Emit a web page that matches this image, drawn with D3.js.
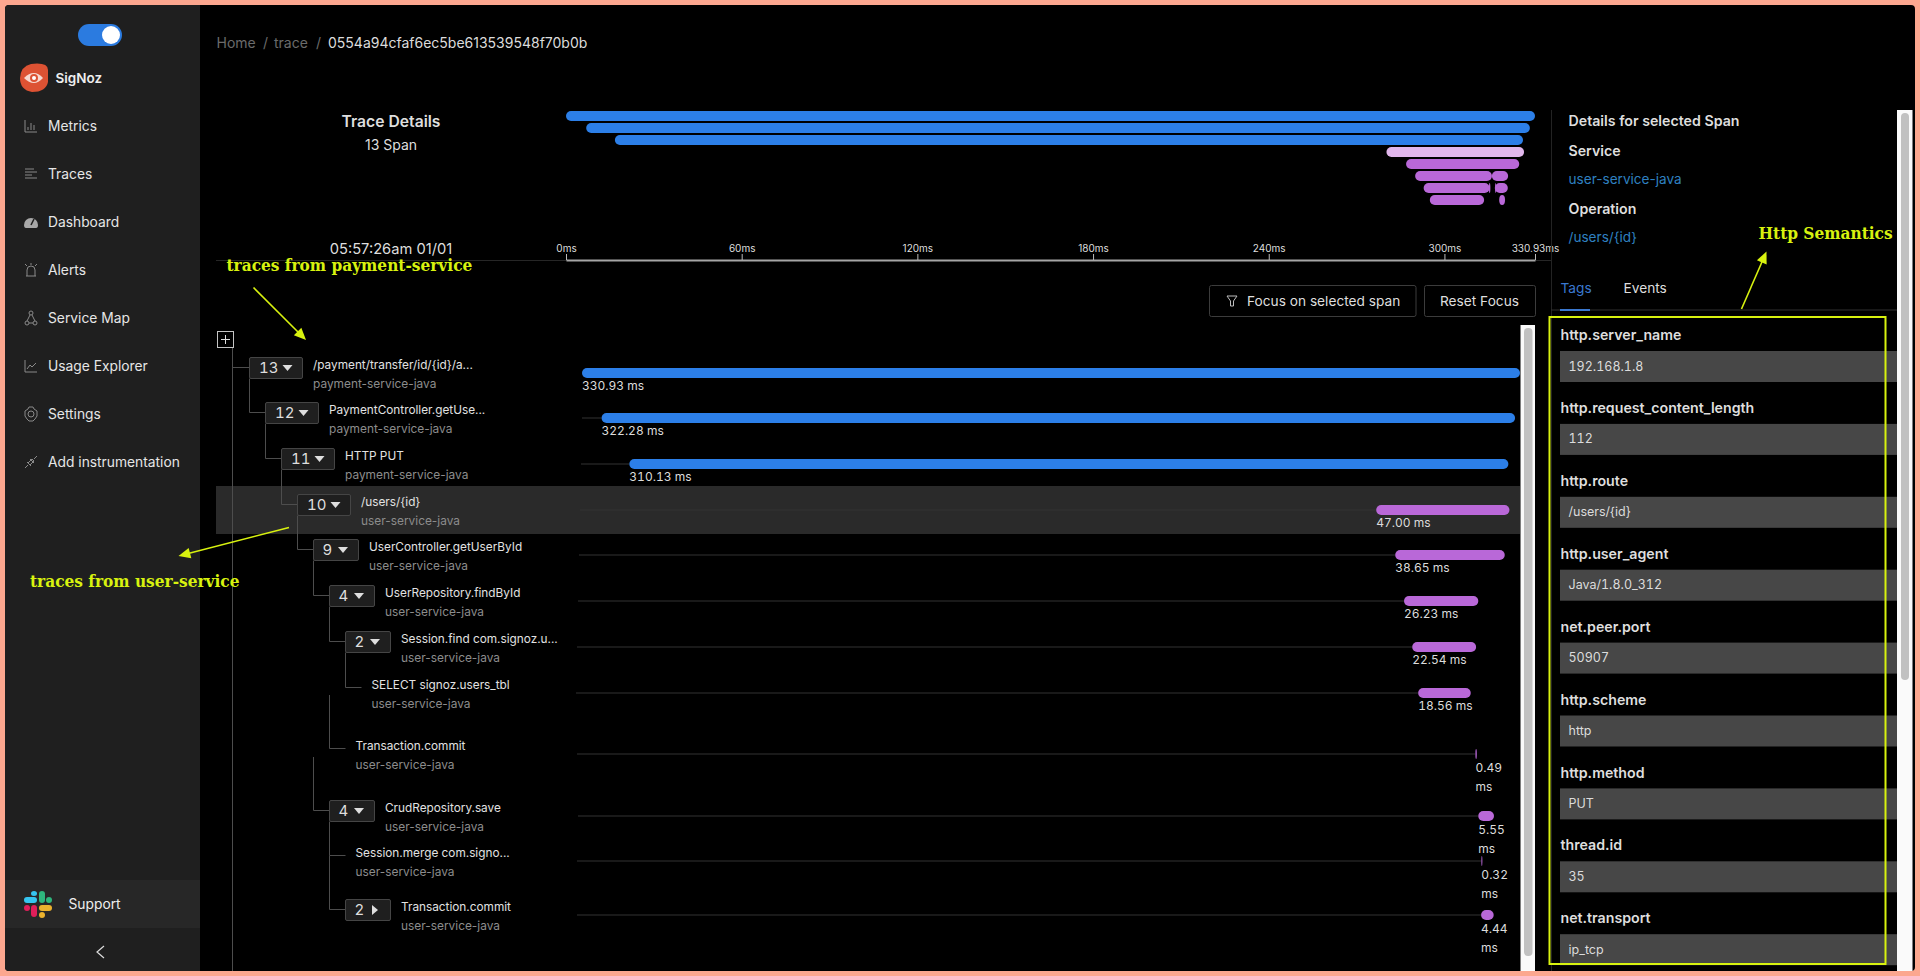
<!DOCTYPE html>
<html>
<head>
<meta charset="utf-8">
<title>SigNoz trace details</title>
<script src="https://cdn.jsdelivr.net/npm/d3@7"></script>
<style>
  html, body { margin: 0; padding: 0; background: #fca78f; overflow: hidden; }
  svg { display: block; }
  text { font-family: Inter, "Noto Sans", sans-serif; dominant-baseline: central; }
  .num { font-feature-settings: "tnum"; }
  .note { font-family: "DejaVu Serif Condensed", "DejaVu Serif", serif; font-stretch: condensed; font-weight: 700; fill: #d8f20f; font-size: 17.1px; }
</style>
</head>
<body>
<script>
// spans, top to bottom as the tree lists them
const spanNames = ['/payment/transfer/id/{id}/a...', 'PaymentController.getUse...', 'HTTP PUT', '/users/{id}',
  'UserController.getUserById', 'UserRepository.findById', 'Session.find com.signoz.u...', 'SELECT signoz.users_tbl',
  'Transaction.commit', 'CrudRepository.save', 'Session.merge com.signo...', 'Transaction.commit']
const spanServices = ['payment-service-java', 'payment-service-java', 'payment-service-java', 'user-service-java',
  'user-service-java', 'user-service-java', 'user-service-java', 'user-service-java',
  'user-service-java', 'user-service-java', 'user-service-java', 'user-service-java']
const spanCounts = [13, 12, 11, 10, 9, 4, 2, null, null, 4, null, 2]
const spanDepths = [0, 1, 2, 3, 4, 5, 6, 7, 6, 5, 6, 6]
const spanStarts = [0, 6.9, 16.7, 280.2, 286.9, 290, 292.9, 295, 315.2, 316.2, 317.3, 317.2]
const spanDurations = [330.93, 322.28, 310.13, 47.00, 38.65, 26.23, 22.54, 18.56, 0.49, 5.55, 0.32, 4.44]
// child of the collapsed commit, only seen in the overview
const hiddenDepth = 7
const hiddenStart = 318.7
const hiddenDuration = 2
const selectedSpan = 3

const axisTicks = [0, 60, 120, 180, 240, 300, 330.93]
const menuItems = ['Metrics', 'Traces', 'Dashboard', 'Alerts', 'Service Map', 'Usage Explorer', 'Settings', 'Add instrumentation']
const tagNames = ['http.server_name', 'http.request_content_length', 'http.route', 'http.user_agent', 'net.peer.port',
  'http.scheme', 'http.method', 'thread.id', 'net.transport']
const tagValues = ['192.168.1.8', '112', '/users/{id}', 'Java/1.8.0_312', '50907', 'http', 'PUT', '35', 'ip_tcp']

// layout
const rowCentres = [373, 418, 464, 510, 555, 601, 647, 693, 754, 816, 861, 915]
const blue = '#2c7fe8', purple = '#b968d8', lime = '#d8f20f'
const lineCol = '#4d4d4d'

const svg = d3.select('body').append('svg').attr('width', 1920).attr('height', 976)

// peach frame and black page
svg.append('rect').attr('x', 5).attr('y', 5).attr('width', 1910).attr('height', 966).attr('rx', 4).attr('fill', '#000')

/* ---------- sidebar ---------- */
const side = svg.append('g')
side.append('path').attr('d', 'M9 5H200V971H9Q5 971 5 967V9Q5 5 9 5Z').attr('fill', '#1f1f1f')
side.append('rect').attr('x', 78).attr('y', 24).attr('width', 44).attr('height', 22).attr('rx', 11).attr('fill', '#2b7be0')
side.append('circle').attr('cx', 111).attr('cy', 35).attr('r', 9).attr('fill', '#fff')

// logo
side.append('path').attr('d', 'M31 64Q48 62 48 70V82Q46 92 32 92Q20 90 20 78Q21 66 31 64Z').attr('fill', '#dd5233')
side.append('path').attr('d', 'M24 78Q34 68 43 78Q34 88 24 78Z').attr('fill', '#f7d9d0')
side.append('circle').attr('cx', 34).attr('cy', 78).attr('r', 4).attr('fill', '#dd5233')
side.append('circle').attr('cx', 34).attr('cy', 78).attr('r', 2).attr('fill', '#fff')
side.append('text').attr('x', 55.5).attr('y', 78).attr('fill', '#eee').attr('font-size', 13.5).attr('font-weight', 600).text('SigNoz')

const menuY = d3.scalePoint().domain(menuItems).range([126, 462])
side.selectAll('.menu').data(menuItems).enter().append('text')
  .attr('class', 'menu').attr('x', 48).attr('y', d => menuY(d))
  .attr('fill', '#e6e6e6').attr('font-size', 13.8).text(d => d)

// small stroked menu icons, drawn around the 0,0 centre of each item
const menuIcons = [
  'M-6-6V6H6M-3 4V1M0 4V-3M3 4V-1',
  'M-6-5H3M-6-2H6M-6 1H1M-6 4H6',
  null,
  'M-5 6H5M-4 6V0A4 4 0 0 1 4 0V6M-6-6L-4-4M6-6L4-4M0-7V-5',
  'M0-3A2 2 0 1 1 0-7A2 2 0 1 1 0-3M-1-3L-4 3M1-3L4 3M-2 5H2M-4 7A2 2 0 1 1-4 3A2 2 0 1 1-4 7M4 7A2 2 0 1 1 4 3A2 2 0 1 1 4 7',
  'M-6-6V6H6M-4 3L-1-1L1 1L5-3',
  'M0-3A3 3 0 1 1 0 3A3 3 0 1 1 0-3M-2-7H2L3-5L6-3V2L4 5L2 7H-2L-4 5L-6 2V-3L-3-5Z',
  'M-6 6L-3 3M6-6L3-3M-4 0L0 4M-1-3L3 1M-3 1L1-3L3-1L-1 3Z'
]
menuIcons.forEach((d, i) => {
  const g = side.append('g').attr('transform', `translate(31,${menuY(menuItems[i])})`)
  if (d) g.append('path').attr('d', d).attr('fill', 'none').attr('stroke', '#8a8a8a').attr('stroke-width', 1)
  else {
    g.append('path').attr('d', 'M-7 3A7 7 0 1 1 7 3Q7 6 5 6H-5Q-7 6-7 3Z').attr('fill', '#a8a8a8')
    g.append('path').attr('d', 'M0 3L3-3').attr('stroke', '#1f1f1f').attr('stroke-width', 1.5)
  }
})

// support row with the slack mark
side.append('rect').attr('x', 5).attr('y', 880).attr('width', 195).attr('height', 48).attr('fill', '#272727')
const slackBars = [
  [24, 897, 13, 6, '#36c5f0'], [31, 891, 6, 5, '#36c5f0'],
  [39, 891, 6, 12, '#2eb67d'], [46, 897, 6, 6, '#2eb67d'],
  [31, 905, 6, 12, '#e01e5a'], [24, 905, 6, 6, '#e01e5a'],
  [39, 905, 13, 6, '#ecb22e'], [39, 912, 6, 6, '#ecb22e']
]
side.selectAll('.slack').data(slackBars).enter().append('rect')
  .attr('x', d => d[0]).attr('y', d => d[1]).attr('width', d => d[2]).attr('height', d => d[3])
  .attr('rx', 3).attr('fill', d => d[4])
side.append('text').attr('x', 68.5).attr('y', 904).attr('fill', '#eee').attr('font-size', 13.8).text('Support')
side.append('path').attr('d', 'M104 946L97 952L104 958').attr('fill', 'none').attr('stroke', '#ddd').attr('stroke-width', 1.2)

/* ---------- header ---------- */
const crumbs = [[216.5, 'Home', '#6b6b6b'], [263, '/', '#6b6b6b'], [274, 'trace', '#6b6b6b'], [316, '/', '#6b6b6b'], [328, '0554a94cfaf6ec5be613539548f70b0b', '#dcdcdc']]
svg.selectAll('.crumb').data(crumbs).enter().append('text')
  .attr('class', 'crumb').attr('x', d => d[0]).attr('y', 43).attr('fill', d => d[2]).attr('font-size', 14).text(d => d[1])

svg.append('text').attr('x', 391).attr('y', 122).attr('text-anchor', 'middle').attr('fill', '#dedede')
  .attr('font-size', 15.7).attr('font-weight', 600).text('Trace Details')
svg.append('text').attr('x', 391).attr('y', 145).attr('text-anchor', 'middle').attr('fill', '#dedede')
  .attr('font-size', 14).text('13 Span')
svg.append('text').attr('x', 391).attr('y', 249).attr('text-anchor', 'middle').attr('fill', '#dedede')
  .attr('font-size', 14.7).text('05:57:26am 01/01')

/* ---------- overview bars ---------- */
const xMini = d3.scaleLinear().domain([0, 330.93]).range([566, 1535])
const yMini = d3.scaleBand().domain(d3.range(8)).range([110, 206]).paddingInner(2 / 12).paddingOuter(1 / 12)

svg.append('line').attr('x1', 216).attr('x2', 1551).attr('y1', 260.5).attr('y2', 260.5).attr('stroke', '#262626')

const miniSpans = spanStarts.map((s, i) => ({ start: s, dur: spanDurations[i], depth: spanDepths[i], i }))
miniSpans.push({ start: hiddenStart, dur: hiddenDuration, depth: hiddenDepth, i: -1 })

svg.append('g').selectAll('rect').data(miniSpans).enter().append('rect')
  .attr('x', d => xMini(d.start))
  .attr('y', d => yMini(d.depth))
  .attr('width', d => Math.max(1, xMini(d.start + d.dur) - xMini(d.start)))
  .attr('height', yMini.bandwidth())
  .attr('rx', 5)
  .attr('fill', d => d.i === selectedSpan ? '#e2b7ec' : d.i >= 0 && d.i < 3 ? blue : purple)

const axis = d3.axisTop(xMini).tickValues(axisTicks).tickSizeInner(6).tickSizeOuter(0).tickFormat(d => d + 'ms')
const axisG = svg.append('g').attr('transform', 'translate(0,260)').call(axis)
axisG.select('.domain').attr('stroke', '#a6a6a6').attr('stroke-width', 2)
axisG.selectAll('.tick line').attr('stroke', '#bbb')
axisG.selectAll('.tick text').attr('fill', '#dedede').attr('font-size', 10)
  .style('font-family', 'Inter, sans-serif').attr('y', -12)

/* ---------- buttons ---------- */
const buttons = [[1209, 206.5, 1247, 'Focus on selected span'], [1424, 111, 1479.5, 'Reset Focus']]
buttons.forEach((b, i) => {
  svg.append('rect').attr('x', b[0] + .5).attr('y', 285.5).attr('width', b[1]).attr('height', 31).attr('rx', 2)
    .attr('fill', '#000').attr('stroke', '#3c3c3c')
  svg.append('text').attr('x', b[2]).attr('y', 301).attr('fill', '#dedede').attr('font-size', 13.7)
    .attr('text-anchor', i ? 'middle' : 'start').text(b[3])
})
svg.append('path').attr('d', 'M1227 296H1237L1233.5 301V306H1230.5V301Z').attr('fill', 'none').attr('stroke', '#bdbdbd')

/* ---------- span tree ---------- */
const xMain = d3.scaleLinear().domain([0, 330.93]).range([582, 1520])
const tree = svg.append('g')

tree.append('rect').attr('x', 216).attr('y', 486).attr('width', 1304).attr('height', 48).attr('fill', '#2a2a2a')

// connectors, a box hangs 16px further right for each level of depth
const boxX = d => 249.5 + 16 * d
const connectorLine = (x1, y1, x2, y2) => tree.append('line').attr('x1', x1).attr('y1', y1).attr('x2', x2).attr('y2', y2)
  .attr('stroke', lineCol)

connectorLine(232.5, 347, 232.5, 971)
tree.append('rect').attr('x', 217.5).attr('y', 331.5).attr('width', 16).attr('height', 16)
  .attr('fill', '#000').attr('stroke', '#c4c4c4')
tree.append('path').attr('d', 'M221 339.5H230M225.5 335V344').attr('stroke', '#ddd').attr('fill', 'none')

// the table only paints part of the long guides, so these start below their parent's box
const guideTop = { 8: 695, 9: 757 }
spanDepths.forEach((depth, i) => {
  const elbowY = rowCentres[i] - 5.5
  const parentX = depth === 0 ? 232.5 : boxX(depth - 1)
  const endX = boxX(depth)
  // nearest earlier row one level up gives the start of the vertical guide
  let parent = i - 1
  while (parent >= 0 && spanDepths[parent] !== depth - 1) parent--
  if (depth > 0) {
    let prev = i - 1
    while (spanDepths[prev] !== depth && prev > parent) prev--
    const from = guideTop[i] || (prev > parent ? rowCentres[prev] - 5.5 : rowCentres[parent] + 5.5)
    connectorLine(parentX, from, parentX, elbowY)
  }
  connectorLine(parentX, elbowY, endX, elbowY)
})

spanNames.forEach((name, i) => {
  const y = rowCentres[i]
  const depth = spanDepths[i]
  const count = spanCounts[i]
  const g = tree.append('g')
  const collapsed = i === spanNames.length - 1
  const wide = count >= 10
  let textX = boxX(depth) + 10
  if (count !== null) {
    const w = wide ? 53 : 45
    textX = boxX(depth) + w + 10.5
    g.append('rect').attr('x', boxX(depth)).attr('y', y - 15.5).attr('width', w).attr('height', 21).attr('rx', 1.5)
      .attr('fill', '#1f1f1f').attr('stroke', '#454545')
    g.append('text').attr('class', 'num').attr('x', boxX(depth) + (wide ? 9.5 : 9)).attr('y', y - 5)
      .attr('fill', '#dedede').attr('font-size', 15).text(count)
    const cx = boxX(depth) + (wide ? 38 : 29.5)
    const cy = y - 5
    g.append('path').attr('fill', '#dedede')
      .attr('d', collapsed ? `M${cx - 3} ${cy - 5}L${cx + 3} ${cy}L${cx - 3} ${cy + 5}Z` : `M${cx - 5} ${cy - 3}H${cx + 5}L${cx} ${cy + 3}Z`)
  }
  g.append('text').attr('x', textX).attr('y', y - 7.5).attr('fill', '#e2e2e2').attr('font-size', 11.8).text(name)
  g.append('text').attr('x', textX).attr('y', y + 11).attr('fill', '#8c8c8c').attr('font-size', 11.9).text(spanServices[i])

  // timeline of the row
  const barX = xMain(spanStarts[i])
  if (i > 0) {
    g.append('line').attr('x1', 582 - (depth - 1)).attr('x2', barX).attr('y1', y).attr('y2', y).attr('stroke', '#333')
  }
  g.append('rect').attr('x', barX).attr('y', y - 5)
    .attr('width', Math.max(1, xMain(spanStarts[i] + spanDurations[i]) - barX)).attr('height', 10).attr('rx', 5)
    .attr('fill', i < 3 ? blue : purple)
  const label = g.append('text').attr('class', 'num').attr('fill', '#dcdcdc').attr('font-size', 12)
  const durText = spanDurations[i].toFixed(2)
  if (spanDurations[i] < 10) {
    label.attr('x', barX).attr('y', y + 14).text(durText)
    g.append('text').attr('x', barX).attr('y', y + 33).attr('fill', '#dcdcdc').attr('font-size', 12).text('ms')
  } else {
    label.attr('x', barX).attr('y', y + 13).text(durText + ' ms')
  }
})

// scrollbars
const scrollbars = [[1520.5, 325, 14.5, 646, 1524, 328, 8.5, 628], [1897, 110, 15.5, 861, 1901, 113, 8, 567]]
scrollbars.forEach(s => {
  svg.append('rect').attr('x', s[0]).attr('y', s[1]).attr('width', s[2]).attr('height', s[3]).attr('fill', '#fafafa')
  svg.append('rect').attr('x', s[4]).attr('y', s[5]).attr('width', s[6]).attr('height', s[7]).attr('rx', 4).attr('fill', '#c1c1c1')
})

/* ---------- details panel ---------- */
svg.append('line').attr('x1', 1551.5).attr('x2', 1551.5).attr('y1', 110).attr('y2', 971).attr('stroke', '#232323')
const details = [
  ['Details for selected Span', 121, '#dedede', 600], ['Service', 151, '#dedede', 600], ['user-service-java', 179, '#2f80c0', 400],
  ['Operation', 209, '#dedede', 600], ['/users/{id}', 237, '#2f80c0', 400]
]
svg.selectAll('.detail').data(details).enter().append('text')
  .attr('class', 'detail').attr('x', 1568.5).attr('y', d => d[1]).attr('fill', d => d[2])
  .attr('font-size', d => d[3] === 600 ? 14.2 : 13.6).attr('font-weight', d => d[3]).text(d => d[0])

svg.append('text').attr('x', 1560.5).attr('y', 288).attr('fill', '#3a78d0').attr('font-size', 13.7).text('Tags')
svg.append('text').attr('x', 1623.5).attr('y', 288).attr('fill', '#dedede').attr('font-size', 13.7).text('Events')
svg.append('line').attr('x1', 1551).attr('x2', 1897).attr('y1', 310).attr('y2', 310).attr('stroke', '#303030')
svg.append('rect').attr('x', 1560).attr('y', 309).attr('width', 30).attr('height', 2).attr('fill', '#3a78d0')

const tagY = d3.scaleBand().domain(tagNames).range([351, 351 + 72.9 * 9])
const tags = svg.selectAll('.tag').data(tagNames).enter().append('g').attr('class', 'tag')
  .attr('transform', d => `translate(0,${tagY(d)})`)
tags.append('text').attr('x', 1560.5).attr('y', -16).attr('fill', '#dedede').attr('font-size', 14.2).attr('font-weight', 600).text(d => d)
tags.append('rect').attr('x', 1560).attr('y', 0).attr('width', 337).attr('height', 31).attr('fill', '#474747')
tags.append('text').attr('class', 'num').attr('x', 1568.5).attr('y', 15.5).attr('fill', '#dcdcdc').attr('font-size', 12.5).text((d, i) => tagValues[i])

/* ---------- lime annotations ---------- */
svg.append('rect').attr('x', 1549.5).attr('y', 317).attr('width', 336).attr('height', 647)
  .attr('fill', 'none').attr('stroke', lime).attr('stroke-width', 2)

const notes = [['traces from payment-service', 226.5, 265], ['traces from user-service', 30, 581], ['Http Semantics', 1758.5, 233]]
svg.selectAll('.note').data(notes).enter().append('text')
  .attr('class', 'note').attr('x', d => d[1]).attr('y', d => d[2]).text(d => d[0])

const arrows = [[253.5, 287.5, 306, 340], [289, 527.5, 178.5, 556], [1741.5, 309, 1766.5, 251.5]]
arrows.forEach(a => {
  const ang = Math.atan2(a[3] - a[1], a[2] - a[0])
  const head = (da, len) => [a[2] - len * Math.cos(ang + da), a[3] - len * Math.sin(ang + da)]
  svg.append('line').attr('x1', a[0]).attr('y1', a[1]).attr('x2', head(0, 6)[0]).attr('y2', head(0, 6)[1])
    .attr('stroke', lime).attr('stroke-width', 1.6)
  svg.append('path').attr('fill', lime)
    .attr('d', `M${a[2]} ${a[3]}L${head(.42, 13)}L${head(-.42, 13)}Z`)
})

// central baseline sits a hair low against the reference
svg.selectAll('text').attr('dy', '-0.4px')
</script>
</body>
</html>
